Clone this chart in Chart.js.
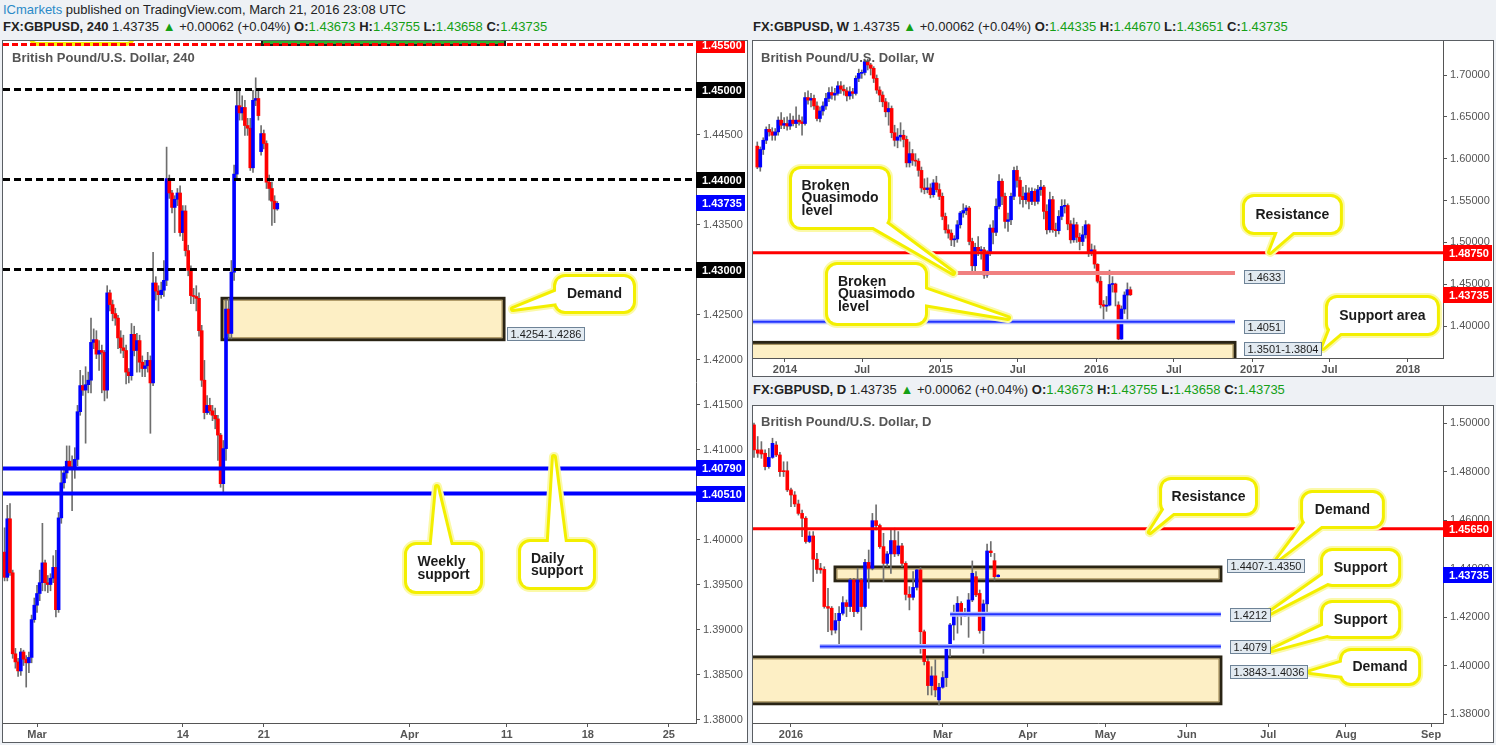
<!DOCTYPE html>
<html><head><meta charset="utf-8">
<script src="https://cdn.jsdelivr.net/npm/chart.js@4.4.1/dist/chart.umd.min.js"></script>
<style>
html,body{margin:0;padding:0}
body{width:1496px;height:745px;background:#eef1f5;position:relative;overflow:hidden;font-family:"Liberation Sans",Arial,sans-serif}
.panel{position:absolute;box-sizing:border-box;border:1px solid #5a5e63;background:#fff}
canvas{position:absolute;display:block}
.hdr{position:absolute;font-size:13px;color:#222;white-space:nowrap;line-height:16px}
.hdr b{font-weight:bold}
.g{color:#15a015}
.ttl{position:absolute;font-weight:bold;font-size:13px;color:#555;white-space:nowrap;line-height:16px}
</style></head><body>
<div class="hdr" style="left:3px;top:2px"><span style="color:#2a8ac8">ICmarkets</span> published on TradingView.com, March 21, 2016 23:08 UTC</div>
<div class="hdr" style="left:3px;top:19px"><b>FX:GBPUSD, 240</b> 1.43735 <span class="g">▲</span> +0.00062 (+0.04%) <b>O:</b><span class="g">1.43673</span> <b>H:</b><span class="g">1.43755</span> <b>L:</b><span class="g">1.43658</span> <b>C:</b><span class="g">1.43735</span></div>
<div class="hdr" style="left:753px;top:19px"><b>FX:GBPUSD, W</b> 1.43735 <span class="g">▲</span> +0.00062 (+0.04%) <b>O:</b><span class="g">1.44335</span> <b>H:</b><span class="g">1.44670</span> <b>L:</b><span class="g">1.43651</span> <b>C:</b><span class="g">1.43735</span></div>
<div class="hdr" style="left:753px;top:382px"><b>FX:GBPUSD, D</b> 1.43735 <span class="g">▲</span> +0.00062 (+0.04%) <b>O:</b><span class="g">1.43673</span> <b>H:</b><span class="g">1.43755</span> <b>L:</b><span class="g">1.43658</span> <b>C:</b><span class="g">1.43735</span></div>

<div class="panel" style="left:2px;top:40px;width:746px;height:703px"></div>
<div class="panel" style="left:752px;top:40px;width:742px;height:337px"></div>
<div class="panel" style="left:752px;top:405px;width:742px;height:338px"></div>

<canvas id="c4h" width="743" height="700" style="left:3px;top:41px"></canvas>
<canvas id="cw" width="740" height="335" style="left:753px;top:41px"></canvas>
<canvas id="cd" width="740" height="335" style="left:753px;top:406px"></canvas>

<div class="ttl" style="left:12px;top:50px">British Pound/U.S. Dollar, 240</div>
<div class="ttl" style="left:761px;top:50px">British Pound/U.S. Dollar, W</div>
<div class="ttl" style="left:761px;top:414px">British Pound/U.S. Dollar, D</div>

<script>
// ================= 4H DATA (Feb 26 – Mar 21 2016, 4-hour bars) =================
const h4Open = [1.3986,1.3958,1.4023,1.3963,1.3873,1.3864,1.3854,1.3875,1.3867,1.3863,1.3869,1.3911,
1.3927,1.3940,1.3952,1.3974,1.3952,1.3950,1.3957,1.3969,1.3922,1.4024,1.4063,1.4074,
1.4087,1.4081,1.4079,1.4089,1.4142,1.4171,1.4166,1.4172,1.4177,1.4219,1.4222,1.4206,
1.4210,1.4208,1.4166,1.4274,1.4261,1.4251,1.4246,1.4224,1.4213,1.4210,1.4186,1.4182,
1.4228,1.4210,1.4221,1.4197,1.4190,1.4193,1.4199,1.4174,1.4285,1.4276,1.4272,1.4277,
1.4288,1.4401,1.4385,1.4369,1.4378,1.4385,1.4341,1.4365,1.4321,1.4299,1.4271,1.4270,
1.4268,1.4232,1.4177,1.4141,1.4149,1.4143,1.4138,1.4134,1.4116,1.4062,1.4101,1.4256,
1.4229,1.4297,1.4406,1.4482,1.4474,1.4480,1.4460,1.4457,1.4413,1.4488,1.4490,1.4431,
1.4451,1.4440,1.4397,1.4390,1.4376,1.43673];
const h4High = [1.4013,1.4038,1.4040,1.3966,1.3879,1.3868,1.3879,1.3877,1.3871,1.3875,1.3916,1.3935,
1.3949,1.3966,1.4018,1.3977,1.3960,1.3962,1.3982,1.3988,1.4030,1.4077,1.4081,1.4104,
1.4104,1.4093,1.4102,1.4149,1.4188,1.4182,1.4192,1.4186,1.4246,1.4234,1.4232,1.4221,
1.4216,1.4210,1.4282,1.4277,1.4266,1.4257,1.4249,1.4232,1.4227,1.4216,1.4190,1.4240,
1.4237,1.4229,1.4227,1.4204,1.4199,1.4208,1.4204,1.4319,1.4292,1.4282,1.4286,1.4310,
1.4436,1.4405,1.4388,1.4382,1.4390,1.4393,1.4371,1.4371,1.4327,1.4304,1.4279,1.4282,
1.4274,1.4238,1.4199,1.4160,1.4157,1.4149,1.4146,1.4138,1.4118,1.4110,1.4266,1.4268,
1.4310,1.4416,1.4499,1.4501,1.4493,1.4488,1.4468,1.4468,1.4499,1.4513,1.4499,1.4460,
1.4455,1.4443,1.4405,1.4397,1.4382,1.43755];
const h4Low = [1.3954,1.3954,1.3960,1.3868,1.3857,1.3848,1.3849,1.3860,1.3836,1.3852,1.3863,1.3908,
1.3919,1.3932,1.3943,1.3943,1.3941,1.3943,1.3952,1.3914,1.3919,1.4018,1.4057,1.4068,
1.4079,1.4032,1.4068,1.4082,1.4138,1.4160,1.4107,1.4163,1.4163,1.4212,1.4201,1.4188,
1.4163,1.4154,1.4157,1.4254,1.4243,1.4238,1.4212,1.4207,1.4202,1.4173,1.4174,1.4177,
1.4204,1.4186,1.4186,1.4181,1.4181,1.4186,1.4118,1.4171,1.4266,1.4254,1.4268,1.4270,
1.4282,1.4379,1.4363,1.4341,1.4371,1.4337,1.4332,1.4315,1.4293,1.4262,1.4262,1.4254,
1.4226,1.4170,1.4134,1.4139,1.4139,1.4132,1.4123,1.4088,1.4058,1.4052,1.4088,1.4223,
1.4223,1.4288,1.4399,1.4466,1.4466,1.4449,1.4449,1.4410,1.4408,1.4482,1.4466,1.4427,
1.4434,1.4390,1.4377,1.4349,1.4352,1.43658];
const h4Close = [1.3958,1.4023,1.3963,1.3873,1.3864,1.3854,1.3875,1.3867,1.3863,1.3869,1.3911,1.3927,
1.3940,1.3952,1.3974,1.3952,1.3950,1.3957,1.3969,1.3922,1.4024,1.4063,1.4074,1.4087,
1.4081,1.4079,1.4089,1.4142,1.4171,1.4166,1.4172,1.4177,1.4219,1.4222,1.4206,1.4210,
1.4208,1.4166,1.4274,1.4261,1.4251,1.4246,1.4224,1.4213,1.4210,1.4186,1.4182,1.4228,
1.4210,1.4221,1.4197,1.4190,1.4193,1.4199,1.4174,1.4285,1.4276,1.4272,1.4277,1.4288,
1.4401,1.4385,1.4369,1.4378,1.4385,1.4341,1.4365,1.4321,1.4299,1.4271,1.4270,1.4268,
1.4232,1.4177,1.4141,1.4149,1.4143,1.4138,1.4134,1.4116,1.4062,1.4101,1.4256,1.4229,
1.4297,1.4406,1.4482,1.4474,1.4480,1.4460,1.4457,1.4413,1.4488,1.4490,1.4471,1.4451,
1.4440,1.4397,1.4390,1.4376,1.43673,1.43735];
const h4PriceTicks = [1.380,1.385,1.390,1.395,1.400,1.405,1.410,1.415,1.420,1.425,1.430,1.435,1.440,1.445,1.450,1.455];
const h4DateTickPos = [0, 9, 14, 23, 29, 34, 39];           // trading days from Mar 1
const h4DateTickLabels = ['Mar','14','21','Apr','11','18','25'];
const h4Levels = [1.4550, 1.4500, 1.4400, 1.4300, 1.4079, 1.4051];
const h4DemandZone = [1.4222, 1.4268];
const h4DemandLabel = '1.4254-1.4286';

// ================= WEEKLY DATA (Oct 28 2013 – Mar 21 2016) =================
const wFirstWeek = '2013-10-28';
const wOpen = [1.615,1.590,1.611,1.622,1.635,1.632,1.628,1.632,1.646,1.640,1.642,1.639,1.646,1.642,1.646,1.644,
1.642,1.673,1.670,1.672,1.663,1.648,1.657,1.663,1.672,1.679,1.676,1.678,1.687,1.683,1.681,1.675,
1.680,1.678,1.696,1.702,1.703,1.716,1.712,1.708,1.696,1.682,1.676,1.668,1.656,1.660,1.631,1.622,
1.626,1.628,1.623,1.595,1.606,1.598,1.597,1.586,1.565,1.563,1.565,1.557,1.571,1.563,1.555,1.531,
1.515,1.511,1.503,1.504,1.521,1.535,1.538,1.541,1.501,1.472,1.494,1.490,1.491,1.461,1.487,1.517,
1.512,1.543,1.573,1.555,1.525,1.527,1.555,1.586,1.574,1.555,1.551,1.559,1.549,1.561,1.549,1.563,
1.566,1.537,1.515,1.551,1.515,1.514,1.531,1.543,1.544,1.522,1.503,1.521,1.506,1.501,1.509,1.521,
1.489,1.491,1.4737,1.4535,1.4255,1.4237,1.4249,1.4496,1.4502,1.4251,1.3845,1.4203,1.4370,1.44335];
const wHigh = [1.620,1.614,1.625,1.638,1.641,1.637,1.636,1.650,1.655,1.649,1.650,1.654,1.651,1.662,1.652,1.650,
1.679,1.681,1.678,1.676,1.668,1.662,1.668,1.678,1.685,1.686,1.684,1.692,1.692,1.688,1.685,1.686,
1.684,1.699,1.707,1.706,1.719,1.719,1.714,1.710,1.700,1.686,1.680,1.672,1.667,1.663,1.640,1.636,
1.643,1.634,1.627,1.620,1.611,1.606,1.600,1.590,1.576,1.577,1.570,1.575,1.579,1.570,1.559,1.535,
1.521,1.515,1.508,1.526,1.537,1.546,1.544,1.543,1.505,1.499,1.507,1.495,1.494,1.490,1.521,1.526,
1.552,1.581,1.576,1.559,1.535,1.559,1.590,1.591,1.578,1.566,1.568,1.565,1.565,1.564,1.568,1.574,
1.568,1.545,1.560,1.555,1.523,1.538,1.551,1.551,1.546,1.526,1.529,1.524,1.511,1.519,1.526,1.522,
1.498,1.496,1.4745,1.4590,1.4305,1.4353,1.4668,1.4590,1.4512,1.4290,1.4240,1.4408,1.4515,1.44670];
const wLow = [1.588,1.585,1.605,1.618,1.627,1.622,1.622,1.628,1.636,1.636,1.634,1.635,1.639,1.637,1.640,1.628,
1.640,1.665,1.662,1.659,1.645,1.644,1.652,1.659,1.668,1.671,1.670,1.676,1.678,1.676,1.669,1.671,
1.672,1.676,1.692,1.696,1.700,1.706,1.700,1.691,1.678,1.668,1.662,1.650,1.640,1.625,1.615,1.613,
1.621,1.614,1.590,1.590,1.592,1.591,1.579,1.560,1.558,1.559,1.553,1.554,1.560,1.551,1.527,1.511,
1.505,1.496,1.495,1.500,1.517,1.530,1.533,1.497,1.466,1.466,1.484,1.480,1.457,1.458,1.484,1.498,
1.508,1.540,1.545,1.517,1.513,1.521,1.551,1.566,1.546,1.542,1.546,1.540,1.545,1.544,1.546,1.556,
1.528,1.510,1.512,1.512,1.507,1.510,1.527,1.535,1.515,1.499,1.500,1.500,1.491,1.496,1.505,1.483,
1.484,1.469,1.4515,1.4215,1.4079,1.4175,1.4240,1.4405,1.4240,1.3836,1.3840,1.4150,1.4052,1.43651];
const wClose = [1.590,1.611,1.622,1.635,1.632,1.628,1.632,1.646,1.640,1.642,1.639,1.646,1.642,1.646,1.644,1.642,
1.673,1.670,1.672,1.663,1.648,1.657,1.663,1.672,1.679,1.676,1.678,1.687,1.683,1.681,1.675,1.680,
1.678,1.696,1.702,1.703,1.716,1.712,1.708,1.696,1.682,1.676,1.668,1.656,1.660,1.631,1.622,1.626,
1.628,1.623,1.595,1.606,1.598,1.597,1.586,1.565,1.563,1.565,1.557,1.571,1.563,1.555,1.531,1.515,
1.511,1.503,1.504,1.521,1.535,1.538,1.541,1.501,1.472,1.494,1.490,1.491,1.461,1.487,1.517,1.512,
1.543,1.573,1.555,1.525,1.527,1.555,1.586,1.574,1.555,1.551,1.559,1.549,1.561,1.549,1.563,1.566,
1.537,1.515,1.551,1.515,1.514,1.531,1.543,1.544,1.522,1.503,1.521,1.506,1.501,1.509,1.521,1.489,
1.491,1.474,1.4535,1.4255,1.4237,1.4249,1.4496,1.4502,1.4404,1.3845,1.4203,1.4370,1.4434,1.43735];
const wPriceTicks = [1.40,1.45,1.50,1.55,1.60,1.65,1.70];
const wDateTickPos = [0, 25.86, 52.14, 77.99, 104.29, 130.29, 156.57, 182.43, 208.71]; // weeks from Jan 1 2014
const wDateTickLabels = ['2014','Jul','2015','Jul','2016','Jul','2017','Jul','2018'];
const wResistance = 1.4875, wBrokenQM1 = 1.4633, wBrokenQM2 = 1.4051;
const wSupportArea = [1.3501, 1.3804];

// ================= DAILY DATA (Dec 18 2015 – Mar 22 2016) =================
const dFirstIndex = -10;   // trading-day index relative to Jan 4 2016
const dOpen = [1.4993,1.4890,1.4890,1.4876,1.4821,1.4859,1.4910,1.4869,1.4804,1.4804,1.4725,1.4704,1.4667,1.4628,
1.4608,1.4512,1.4535,1.4439,1.4402,1.4397,1.4244,1.4237,1.4147,1.4186,1.4216,1.4260,1.4244,1.4353,
1.4223,1.4353,1.4244,1.4426,1.4402,1.4598,1.4578,1.4491,1.4422,1.4461,1.4516,1.4461,1.4494,1.4422,
1.4294,1.4282,1.4323,1.4395,1.4140,1.4017,1.3918,1.3958,1.3859,1.3911,1.3951,1.4072,1.4168,1.4216,
1.4257,1.4205,1.4213,1.4271,1.4367,1.4298,1.4145,1.4255,1.4473,1.4433,1.43673];
const dHigh = [1.5000,1.4945,1.4924,1.4890,1.4896,1.4938,1.4924,1.4880,1.4841,1.4841,1.4732,1.4718,1.4683,1.4642,
1.4615,1.4553,1.4553,1.4463,1.4422,1.4408,1.4319,1.4244,1.4216,1.4244,1.4285,1.4271,1.4360,1.4360,
1.4402,1.4360,1.4439,1.4477,1.4628,1.4663,1.4584,1.4546,1.4471,1.4560,1.4567,1.4553,1.4505,1.4429,
1.4326,1.4388,1.4397,1.4405,1.4147,1.4030,1.3996,1.4024,1.3927,1.3976,1.4079,1.4175,1.4250,1.4285,
1.4264,1.4237,1.4298,1.4432,1.4388,1.4312,1.4271,1.4502,1.4512,1.4463,1.43755];
const dLow = [1.4859,1.4859,1.4855,1.4807,1.4814,1.4855,1.4862,1.4780,1.4780,1.4718,1.4656,1.4656,1.4621,1.4532,
1.4505,1.4507,1.4347,1.4381,1.4381,1.4237,1.4140,1.4127,1.4134,1.4079,1.4209,1.4202,1.4223,1.4202,
1.4216,1.4147,1.4237,1.4319,1.4395,1.4560,1.4484,1.4347,1.4408,1.4381,1.4450,1.4453,1.4408,1.4271,
1.4230,1.4271,1.4312,1.4051,1.4003,1.3879,1.3879,1.3872,1.3838,1.3907,1.3914,1.4037,1.4106,1.4134,
1.4168,1.4202,1.4117,1.4264,1.4285,1.4134,1.4051,1.4223,1.4450,1.4353,1.43658];
const dClose = [1.4890,1.4876,1.4873,1.4821,1.4859,1.4917,1.4869,1.4800,1.4800,1.4725,1.4704,1.4667,1.4628,1.4608,
1.4512,1.4535,1.4439,1.4397,1.4395,1.4244,1.4237,1.4147,1.4186,1.4216,1.4260,1.4244,1.4353,1.4223,
1.4353,1.4244,1.4426,1.4402,1.4598,1.4578,1.4491,1.4422,1.4461,1.4516,1.4461,1.4494,1.4422,1.4294,
1.4282,1.4323,1.4395,1.4140,1.4017,1.3918,1.3958,1.3900,1.3911,1.3951,1.4072,1.4168,1.4216,1.4257,
1.4205,1.4213,1.4271,1.4381,1.4292,1.4145,1.4255,1.4473,1.4466,1.4367,1.43735];
const dPriceTicks = [1.38,1.40,1.42,1.44,1.46,1.48,1.50];
const dDateTickPos = [0, 41, 64, 85, 107, 129, 150, 173];
const dDateTickLabels = ['2016','Mar','Apr','May','Jun','Jul','Aug','Sep'];
const dResistance = 1.4565, dSupport1 = 1.4212, dSupport2 = 1.4079;
const dDemand1 = [1.4350, 1.4407], dDemand2 = [1.3843, 1.4036];

// ================= HELPERS =================
const FONT = '"Liberation Sans", Arial, sans-serif';
const UP = '#0000ff', DOWN = '#ff0000';

function candleSets(xs, o, h, l, c, bodyMax) {
  return [
    {type:'bar', data: xs.map((x,i)=>({x, y:[l[i], h[i]]})), backgroundColor:'#6e6e6e',
     barThickness:1, maxBarThickness:1, grouped:false, order:6, borderWidth:0},
    {type:'bar', data: xs.map((x,i)=>({x, y:[o[i], c[i]]})),
     backgroundColor: c.map((v,i)=> v >= o[i] ? UP : DOWN),
     barThickness:bodyMax, maxBarThickness:bodyMax, minBarLength:1, grouped:false, order:5, borderWidth:0}
  ];
}
function hline(x1, x2, p, color, width, dash, order) {
  return {type:'line', data:[{x:x1,y:p},{x:x2,y:p}], borderColor:color, borderWidth:width,
    borderDash:dash||[], pointRadius:0, fill:false, order:(order===undefined?2:order), tension:0, borderCapStyle:'butt'};
}
function rrect(ctx,l,t,r,b,rad){
  ctx.moveTo(l+rad,t);ctx.lineTo(r-rad,t);ctx.arcTo(r,t,r,t+rad,rad);ctx.lineTo(r,b-rad);
  ctx.arcTo(r,b,r-rad,b,rad);ctx.lineTo(l+rad,b);ctx.arcTo(l,b,l,b-rad,rad);ctx.lineTo(l,t+rad);
  ctx.arcTo(l,t,l+rad,t,rad);ctx.closePath();
}
function drawCallout(ctx, xs, ys, c) {
  const l = xs.getPixelForValue(c.x1), r = xs.getPixelForValue(c.x2);
  const t = ys.getPixelForValue(c.y1), b = ys.getPixelForValue(c.y2);
  const tx = xs.getPixelForValue(c.tipX), ty = ys.getPixelForValue(c.tipY);
  const [f1,f2] = c.base, ins = 6;
  let p1, p2;
  if (c.side === 'left')       { p1={x:l+ins,y:t+(b-t)*f1}; p2={x:l+ins,y:t+(b-t)*f2}; }
  else if (c.side === 'right') { p1={x:r-ins,y:t+(b-t)*f1}; p2={x:r-ins,y:t+(b-t)*f2}; }
  else if (c.side === 'top')   { p1={x:l+(r-l)*f1,y:t+ins}; p2={x:l+(r-l)*f2,y:t+ins}; }
  else                         { p1={x:l+(r-l)*f1,y:b-ins}; p2={x:l+(r-l)*f2,y:b-ins}; }
  const tri = ()=>{ctx.beginPath();ctx.moveTo(p1.x,p1.y);ctx.lineTo(tx,ty);ctx.lineTo(p2.x,p2.y);ctx.closePath();};
  const box = ()=>{ctx.beginPath();rrect(ctx,l,t,r,b,9);};
  ctx.save();
  ctx.lineJoin = 'round';
  for (const [w,col] of [[10,'#fbf9a8'],[6,'#f3ef00']]) {
    ctx.lineWidth = w; ctx.strokeStyle = col; box(); ctx.stroke(); tri(); ctx.stroke();
  }
  ctx.fillStyle = '#fff'; box(); ctx.fill(); tri(); ctx.fill();
  ctx.font = 'bold 14px ' + FONT; ctx.fillStyle = '#1b1b1b'; ctx.textBaseline = 'middle'; ctx.textAlign = 'left';
  const lh = 12.5, n = c.text.length;
  const mw = Math.max(...c.text.map(s=>ctx.measureText(s).width));
  const x0 = (l+r)/2 - mw/2, y0 = (t+b)/2 - (n-1)*lh/2;
  c.text.forEach((s,i)=>ctx.fillText(s, x0, y0 + i*lh + 0.5));
  ctx.restore();
}

const tvAnno = {
  id:'tvAnno',
  beforeDatasetsDraw(chart, args, o) {
    const {ctx, chartArea:a, scales:{x, y}} = chart;
    ctx.save();
    ctx.beginPath(); ctx.rect(a.left, a.top, a.right-a.left, a.bottom-a.top); ctx.clip();
    (o.shapes||[]).forEach(s=>{
      const x1=x.getPixelForValue(s.x1), x2=x.getPixelForValue(s.x2);
      const y1=y.getPixelForValue(s.y1), y2=y.getPixelForValue(s.y2);
      ctx.beginPath(); rrect(ctx,x1,y1,x2,y2,s.r||0);
      ctx.fillStyle=s.fill; ctx.fill();
      if (s.stroke){ctx.lineWidth=s.lw||2; ctx.strokeStyle=s.stroke; ctx.stroke();}
    });
    (o.zones||[]).forEach(z=>{
      const x1=x.getPixelForValue(z.x1), x2=x.getPixelForValue(z.x2);
      const y1=y.getPixelForValue(z.hi), y2=y.getPixelForValue(z.lo);
      ctx.fillStyle='#fdefc5'; ctx.fillRect(x1,y1,x2-x1,y2-y1);
      ctx.lineWidth=3; ctx.strokeStyle='#2a2414'; ctx.strokeRect(x1,y1,x2-x1,y2-y1);
      ctx.lineWidth=1; ctx.strokeStyle='#a08a55'; ctx.strokeRect(x1+2,y1+2,x2-x1-4,y2-y1-4);
    });
    ctx.restore();
  },
  afterDatasetsDraw(chart, args, o) {
    const {ctx, chartArea:a, scales:{x, y}} = chart;
    ctx.save();
    ctx.beginPath(); ctx.rect(a.left, a.top, a.right-a.left, a.bottom-a.top); ctx.clip();
    (o.callouts||[]).forEach(c=>drawCallout(ctx,x,y,c));
    (o.labels||[]).forEach(L=>{
      ctx.font='11px '+FONT; ctx.textBaseline='middle'; ctx.textAlign='left';
      const w = Math.round(ctx.measureText(L.text).width)+7;
      const xx=Math.round(x.getPixelForValue(L.x)), yy=Math.round(y.getPixelForValue(L.y));
      ctx.fillStyle='#e2eaf1'; ctx.fillRect(xx,yy-7,w,14);
      ctx.strokeStyle='#6e8397'; ctx.lineWidth=1; ctx.strokeRect(xx+0.5,yy-6.5,w-1,13);
      ctx.fillStyle='#1d1d1d'; ctx.fillText(L.text,xx+3.5,yy+0.5);
    });
    ctx.restore();
  },
  afterDraw(chart, args, o) {
    const {ctx, chartArea:a, scales:{y}} = chart;
    ctx.save();
    (o.tags||[]).forEach(t=>{
      const yy = Math.round(y.getPixelForValue(t.v));
      ctx.fillStyle=t.bg; ctx.fillRect(a.right, yy-8, chart.width - a.right - 1, 16);
      ctx.fillStyle='#fff'; ctx.font='bold 11px '+FONT; ctx.textBaseline='middle'; ctx.textAlign='left';
      ctx.fillText(t.v.toFixed(5), a.right+6, yy+0.5);
    });
    ctx.restore();
  }
};

function build(id, cfg) {
  return new Chart(document.getElementById(id), {
    type:'bar',
    data:{datasets: cfg.datasets},
    options:{
      responsive:false, animation:false, events:[],
      layout:{padding:0},
      plugins:{legend:{display:false}, tooltip:{enabled:false}, tvAnno: cfg.anno},
      scales:{
        x:{type:'linear', min:cfg.xmin, max:cfg.xmax, offset:false,
          afterBuildTicks:s=>{ s.ticks = cfg.xTicks.map(v=>({value:v})); },
          afterFit:s=>{ s.height=18; s.paddingLeft=0; s.paddingRight=0; },
          ticks:{callback:(v,i)=>cfg.xLabels[i], autoSkip:false, maxRotation:0, minRotation:0, padding:1,
            color:'#555', font:{family:FONT,size:11,weight:'bold'}},
          grid:{drawOnChartArea:false, drawTicks:true, tickLength:4, color:'#555', offset:false},
          border:{display:true, color:'#555', width:1}},
        y:{type:'linear', position:'right', min:cfg.ymin, max:cfg.ymax,
          afterBuildTicks:s=>{ s.ticks = cfg.yTicks.map(v=>({value:v})); },
          afterFit:s=>{ s.width=50; s.paddingTop=0; s.paddingBottom=0; },
          ticks:{callback:v=>Number(v).toFixed(5), autoSkip:false, padding:3, color:'#555', font:{family:FONT,size:11}},
          grid:{drawOnChartArea:false, drawTicks:true, tickLength:4, color:'#555'},
          border:{display:true, color:'#555', width:1}}
      }
    },
    plugins:[tvAnno]
  });
}

// ================= 4H CHART =================
(function(){
  const N = h4Close.length;
  const xs = h4Close.map((_,i)=> 14 + 5/6 - (N-1-i)/6);
  const xmin = -2.099, xmax = 40.68;
  const ds = [
    ...candleSets(xs, h4Open, h4High, h4Low, h4Close, 3),
    hline(xmin, xmax, h4Levels[0], '#ff0000', 3, [6,3]),
    hline(xmin, xmax, h4Levels[1], '#000', 3, [7,4]),
    hline(xmin, xmax, h4Levels[2], '#000', 3, [7,4]),
    hline(xmin, xmax, h4Levels[3], '#000', 3, [7,4]),
    hline(xmin, xmax, h4Levels[4], '#0000ff', 4),
    hline(xmin, xmax, h4Levels[5], '#0000ff', 4),
  ];
  build('c4h', {
    datasets: ds, xmin, xmax, ymin:1.379611, ymax:1.455389,
    xTicks:h4DateTickPos, xLabels:h4DateTickLabels, yTicks:h4PriceTicks,
    anno:{
      shapes:[
        {x1:-0.37, x2:5.9, y1:1.4580, y2:1.45506, r:6, fill:'#ffffff', stroke:'#f3ef00', lw:4},
        {x1:13.89, x2:28.89, y1:1.4560, y2:1.45494, fill:'#2fb02f', stroke:'#1a1a1a', lw:2}
      ],
      zones:[{x1:11.42, x2:28.83, lo:h4DemandZone[0], hi:h4DemandZone[1]}],
      labels:[{x:29.01, y:1.42283, text:h4DemandLabel}],
      callouts:[
        {text:['Demand'], x1:32.04, x2:36.79, y1:1.42917, y2:1.42539, tipX:29.38, tipY:1.42561, side:'left', base:[0.35,0.75]},
        {text:['Weekly','support'], x1:22.84, x2:27.35, y1:1.39939, y2:1.39428, tipX:24.69, tipY:1.40583, side:'top', base:[0.33,0.62]},
        {text:['Daily','support'], x1:29.88, x2:34.32, y1:1.39972, y2:1.39472, tipX:31.91, tipY:1.40917, side:'top', base:[0.38,0.62]}
      ],
      tags:[
        {v:1.4550,bg:'#ff0000'},{v:1.4500,bg:'#000'},{v:1.4400,bg:'#000'},{v:1.43735,bg:'#0000ff'},
        {v:1.4300,bg:'#000'},{v:1.4079,bg:'#0000ff'},{v:1.4051,bg:'#0000ff'}
      ]
    }
  });
})();

// ================= WEEKLY CHART =================
(function(){
  const base = Date.UTC(2014,0,1), first = Date.parse(wFirstWeek+'T00:00:00Z');
  const xs = wClose.map((_,i)=> (first + i*7*86400000 - base)/(7*86400000));
  const xmin = -10.72, xmax = 220.44, zEnd = 150.75;
  const ds = [
    ...candleSets(xs, wOpen, wHigh, wLow, wClose, 3),
    hline(xmin, xmax, wResistance, '#ff0000', 3),
    hline(57.6, zEnd, wBrokenQM1, '#f08080', 4),
    hline(57.6, zEnd, wBrokenQM1, '#e84c4c', 1),
    hline(xmin, zEnd, wBrokenQM2, '#b9c0ff', 5),
    hline(xmin, zEnd, wBrokenQM2, '#2233ff', 2, null, 1),
  ];
  build('cw', {
    datasets: ds, xmin, xmax, ymin:1.36176, ymax:1.74064,
    xTicks:wDateTickPos, xLabels:wDateTickLabels, yTicks:wPriceTicks,
    anno:{
      zones:[{x1:xmin-2, x2:zEnd, lo:wSupportArea[0], hi:wSupportArea[1]}],
      labels:[
        {x:153.8, y:1.4580, text:'1.4633'},
        {x:153.8, y:1.3992, text:'1.4051'},
        {x:153.8, y:1.3723, text:'1.3501-1.3804'}
      ],
      callouts:[
        {text:['Broken','Quasimodo','level'], x1:2.35, x2:34.5, y1:1.5877, y2:1.5183, tipX:56.3, tipY:1.4634, side:'bottom', base:[0.74,0.95]},
        {text:['Broken','Quasimodo','level'], x1:14.4, x2:46.9, y1:1.4729, y2:1.4036, tipX:74.7, tipY:1.4096, side:'right', base:[0.38,0.66]},
        {text:['Resistance'], x1:154.1, x2:185.9, y1:1.5542, y2:1.5124, tipX:162.5, tipY:1.4885, side:'bottom', base:[0.37,0.58]},
        {text:['Support area'], x1:181.9, x2:218.4, y1:1.4335, y2:1.3917, tipX:180.2, tipY:1.3737, side:'bottom', base:[0.03,0.18]}
      ],
      tags:[{v:wResistance,bg:'#ff0000'},{v:1.43735,bg:'#ff0000'}]
    }
  });
})();

// ================= DAILY CHART =================
(function(){
  const xs = dClose.map((_,i)=> dFirstIndex + i);
  const xmin = -10.27, xmax = 176.22, zEnd = 116.2;
  const ds = [
    ...candleSets(xs, dOpen, dHigh, dLow, dClose, 3),
    hline(xmin, xmax, dResistance, '#ff0000', 3),
    hline(43, zEnd, dSupport1, '#b9c0ff', 5),
    hline(43, zEnd, dSupport1, '#2233ff', 2, null, 1),
    hline(7.8, zEnd, dSupport2, '#b9c0ff', 5),
    hline(7.8, zEnd, dSupport2, '#2233ff', 2, null, 1),
  ];
  build('cd', {
    datasets: ds, xmin, xmax, ymin:1.37637, ymax:1.50709,
    xTicks:dDateTickPos, xLabels:dDateTickLabels, yTicks:dPriceTicks,
    anno:{
      zones:[
        {x1:11.9, x2:zEnd, lo:dDemand1[0], hi:dDemand1[1]},
        {x1:xmin-2, x2:zEnd, lo:dDemand2[0], hi:dDemand2[1]}
      ],
      labels:[
        {x:117.8, y:1.4411, text:'1.4407-1.4350'},
        {x:118.6, y:1.4211, text:'1.4212'},
        {x:118.6, y:1.4077, text:'1.4079'},
        {x:118.6, y:1.3976, text:'1.3843-1.4036'}
      ],
      callouts:[
        {text:['Resistance'], x1:100.3, x2:125.4, y1:1.4766, y2:1.4630, tipX:97.0, tipY:1.4551, side:'bottom', base:[0.04,0.2]},
        {text:['Demand'], x1:138.4, x2:159.7, y1:1.4712, y2:1.4576, tipX:131.4, tipY:1.4436, side:'bottom', base:[0.05,0.33]},
        {text:['Support'], x1:143.8, x2:164.1, y1:1.4473, y2:1.4337, tipX:128.9, tipY:1.4213, side:'left', base:[0.6,0.95]},
        {text:['Support'], x1:143.8, x2:164.1, y1:1.4259, y2:1.4122, tipX:130.0, tipY:1.4065, side:'left', base:[0.6,0.95]},
        {text:['Demand'], x1:148.9, x2:169.5, y1:1.4061, y2:1.3929, tipX:140.3, tipY:1.3974, side:'left', base:[0.3,0.8]}
      ],
      tags:[{v:dResistance,bg:'#ff0000'},{v:1.43735,bg:'#0000ff'}]
    }
  });
})();
</script>
</body></html>
